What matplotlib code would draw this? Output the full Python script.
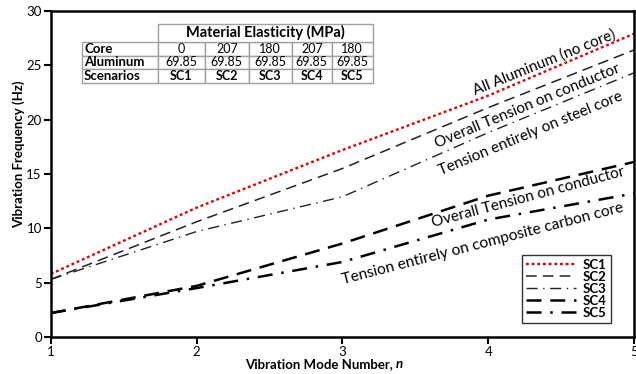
import matplotlib.pyplot as plt

plt.rcParams['font.family'] = ['Lato', 'DejaVu Sans']

n = [1, 2, 3, 4, 5]
sc1 = [5.8, 11.9, 17.2, 22.2, 27.9]
sc2 = [5.3, 10.6, 15.5, 21.1, 26.4]
sc3 = [5.3, 9.7, 12.9, 18.8, 24.3]
sc4 = [2.2, 4.7, 8.6, 13.0, 16.1]
sc5 = [2.2, 4.5, 6.9, 10.8, 13.2]

row_names = ["Core", "Aluminum", "Scenarios"]
core_vals = ["0", "207", "180", "207", "180"]
alu_vals = ["69.85"] * 5
scen_vals = ["SC1", "SC2", "SC3", "SC4", "SC5"]

fig = plt.figure(figsize=(6.36, 3.74), dpi=100)
ax = fig.add_axes([0.080, 0.099, 0.917, 0.872])

ax.plot(n, sc1, color="#e00000", linestyle=(0, (1.2, 1.2)), lw=1.7, label="SC1")
ax.plot(n, sc2, color="#222222", linestyle=(0, (7, 4)), lw=1.1, label="SC2")
ax.plot(n, sc3, color="#222222", linestyle=(0, (8, 4, 1, 4)), lw=1.0, label="SC3")
ax.plot(n, sc4, color="black", linestyle=(0, (6, 3.5)), lw=1.8, label="SC4")
ax.plot(n, sc5, color="black", linestyle=(0, (6, 3.5, 1, 3.5)), lw=1.8, label="SC5")

ax.set_xlim(1, 5)
ax.set_ylim(0, 30)
ax.set_xticks([1, 2, 3, 4, 5])
ax.set_yticks([0, 5, 10, 15, 20, 25, 30])
ax.tick_params(labelsize=9.5, width=1.5, length=5, direction="out", pad=1.5)
for s in ax.spines.values():
    s.set_linewidth(1.8)

# x label with italic bold n, placed after measuring the first part
xl = fig.text(245 / 636, 0.026, "Vibration Mode Number, ", fontsize=9.5, fontweight="bold", ha="left", va="center")
fig.canvas.draw()
bb = xl.get_window_extent()
fig.text(bb.x1 / 636, 0.026, "n", fontsize=9.5, fontweight="bold", style="italic", ha="left", va="center")

ax.set_ylabel("Vibration Frequency (Hz)", fontsize=9.5, fontweight="bold")
ax.yaxis.set_label_coords(-0.045, 0.561)

leg = ax.legend(loc="lower right", bbox_to_anchor=(0.96, 0.043),
                prop={"weight": "bold", "size": 9.5}, frameon=True, fancybox=False,
                edgecolor="black", handlelength=3.8, labelspacing=0.0,
                borderpad=0.3, handletextpad=0.5, borderaxespad=0)
leg.get_frame().set_linewidth(1.0)

# curve labels
ax.text(4.385, 25.3, "All Aluminum (no core)", rotation=22, ha="center", va="center", fontsize=11, rotation_mode="anchor")
ax.text(4.27, 21.2, "Overall Tension on conductor", rotation=22.5, ha="center", va="center", fontsize=11, rotation_mode="anchor")
ax.text(4.29, 18.7, "Tension entirely on steel core", rotation=22.5, ha="center", va="center", fontsize=11, rotation_mode="anchor")
ax.text(4.27, 12.8, "Overall Tension on conductor", rotation=15, ha="center", va="center", fontsize=11, rotation_mode="anchor")
ax.text(3.96, 8.6, "Tension entirely on composite carbon core", rotation=14.5, ha="center", va="center", fontsize=11.2, rotation_mode="anchor")

# table of material properties
cells = [[row_names[0]] + core_vals,
         [row_names[1]] + alu_vals,
         [row_names[2]] + scen_vals]
widths = [76, 47, 44, 43, 40, 41]
tot = sum(widths)
tab = ax.table(cellText=cells, colWidths=[w / tot for w in widths],
               bbox=[0.053, 0.779, 0.499, 0.126], cellLoc="center")
tab.auto_set_font_size(False)
tab.set_fontsize(9)
for (r, c), cell in tab.get_celld().items():
    cell.set_edgecolor("#a0a0a0")
    cell.set_linewidth(1.0)
    cell.PAD = 0.03
    if c == 0:
        cell._loc = "left"
        cell.get_text().set_ha("left")
        cell.get_text().set_fontweight("bold")
        cell.get_text().set_fontsize(9.5)
    if r == 2:
        cell.get_text().set_fontweight("bold")

head = ax.table(cellText=[["Material Elasticity (MPa)"]], bbox=[0.1835, 0.905, 0.3685, 0.055], cellLoc="center")
head.auto_set_font_size(False)
head.set_fontsize(10.5)
for cell in head.get_celld().values():
    cell.set_edgecolor("#a0a0a0")
    cell.set_linewidth(1.0)
    cell.get_text().set_fontweight("bold")

fig.savefig("out.png", dpi=100)
